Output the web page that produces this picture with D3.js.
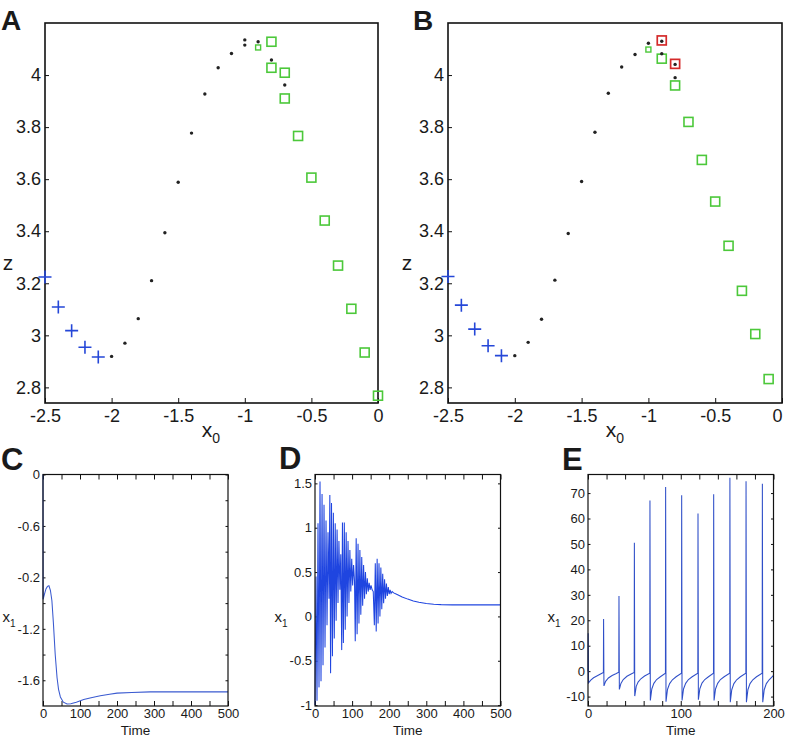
<!DOCTYPE html>
<html><head><meta charset="utf-8">
<script src="https://cdn.jsdelivr.net/npm/d3@7"></script>
<style>
body{margin:0;background:#fff;}
svg{display:block;}
text{font-family:"Liberation Sans",Arial,Helvetica,sans-serif;fill:#1a1a1a;}
</style>
</head><body>
<svg id="chart" width="786" height="739"></svg>
<script>
// ---------------- DATA ----------------
// Panels A & B (x0 vs z)
const scatterXTicks = [-2.5, -2, -1.5, -1, -0.5, 0];
const scatterXTickLabels = ["-2.5", "-2", "-1.5", "-1", "-0.5", "0"];
const scatterYTicks = [2.8, 3, 3.2, 3.4, 3.6, 3.8, 4];
const scatterYTickLabels = ["2.8", "3", "3.2", "3.4", "3.6", "3.8", "4"];

const aBlackDots = [[-2.0,2.919],[-1.9,2.970],[-1.8,3.064],[-1.7,3.210],[-1.6,3.394],[-1.5,3.588],[-1.4,3.777],[-1.3,3.927],[-1.2,4.028],[-1.1,4.083],[-1.0,4.135],[-1.0,4.115],[-0.9,4.128],[-0.8,4.058],[-0.7,3.962]];
const aGreenSquares = [[-0.8,4.128],[-0.8,4.028],[-0.7,4.009],[-0.7,3.910],[-0.6,3.766],[-0.5,3.606],[-0.4,3.441],[-0.3,3.268],[-0.2,3.102],[-0.1,2.934],[0.0,2.768]];
const aGreenSmall = [[-0.9,4.106]];
const aBluePlus = [[-2.5,3.224],[-2.4,3.109],[-2.3,3.018],[-2.2,2.954],[-2.1,2.917]];

const bBlackDots = [[-2.0,2.922],[-1.9,2.973],[-1.8,3.062],[-1.7,3.212],[-1.6,3.391],[-1.5,3.591],[-1.4,3.780],[-1.3,3.930],[-1.2,4.031],[-1.1,4.079],[-1.0,4.122],[-0.9,4.082],[-0.9,4.130],[-0.8,4.041],[-0.8,3.990]];
const bGreenSquares = [[-0.9,4.063],[-0.8,3.960],[-0.7,3.820],[-0.6,3.674],[-0.5,3.514],[-0.4,3.344],[-0.3,3.171],[-0.2,3.005],[-0.1,2.832]];
const bGreenSmall = [[-1.0,4.098]];
const bRedSquares = [[-0.9,4.133],[-0.8,4.043]];
const bBluePlus = [[-2.5,3.226],[-2.4,3.116],[-2.3,3.024],[-2.2,2.960],[-2.1,2.922]];

// Panel C (time, x1)
const cXTicks = [0,50,100,150,200,250,300,350,400,450,500];
const cXTickLabels = ["0","","100","","200","","300","","400","","500"];
const cYTicks = [0,-0.2,-0.4,-0.6,-0.8,-1.0,-1.2,-1.4,-1.6];
const cYTickLabels = ["0","","-0.6","","-0.2","","-1.2","","-1.6"];
const cSeries = [[0,0],[0.3,-0.97],[4,-0.93],[8,-0.89],[12,-0.87],[16,-0.865],[20,-0.9],[24,-0.98],[28,-1.15],[33,-1.4],[38,-1.58],[42,-1.67],[47,-1.73],[55,-1.77],[65,-1.785],[75,-1.783],[90,-1.77],[110,-1.75],[130,-1.735],[155,-1.72],[180,-1.708],[200,-1.70],[240,-1.695],[290,-1.69],[400,-1.69],[500,-1.69]];

// Panel D
const dXTicks = [0,50,100,150,200,250,300,350,400,450,500];
const dXTickLabels = ["0","","100","","200","","300","","400","","500"];
const dYTicks = [-1,-0.5,0,0.5,1,1.5];
const dYTickLabels = ["-1","-0.5","0","0.5","1","1.5"];
const dSeries = [[0,-1.0],[2.7,0.45],[5.4,-0.95],[8.1,1.05],[10.8,-0.8],[13.5,1.52],[16.2,-0.73],[19,1.38],[21.6,-0.55],[24.3,1.26],[27,-0.35],[29.7,1.08],[32.4,-0.1],[35.1,0.95],[37.8,0.2],
[40,1.37],[42,-0.64],[44.5,1.28],[47,-0.45],[49.5,1.17],[52,-0.25],[54.5,1.05],[57,-0.05],[59.5,0.98],[62,0.15],[64.5,0.85],[67,0.3],[69.5,0.7],
[72,-0.38],[74,1.06],[76.5,-0.3],[79,1.06],[81.5,-0.15],[84,0.95],[86.5,0.0],[89,0.85],[91.5,0.15],[94,0.75],[96.5,0.28],[99,0.65],[101.5,0.35],[104,0.58],[106.5,0.4],
[108.5,-0.28],[111,0.88],[113.5,-0.2],[116,0.82],[118.5,-0.08],[121,0.75],[123.5,0.02],[126,0.67],[128.5,0.12],[131,0.58],[133.5,0.2],[136,0.5],[138.5,0.25],[141,0.43],[143.5,0.28],[146,0.38],[148.5,0.3],[151,0.35],[154,0.3],[157,0.28],
[160,-0.1],[162.5,0.6],[165,-0.17],[167.5,0.65],[170,-0.08],[172.5,0.6],[175,0.0],[177.5,0.55],[180,0.08],[182.5,0.48],[185,0.15],[187.5,0.42],[190,0.2],[192.5,0.37],[195,0.23],[197.5,0.33],[200,0.25],[202.5,0.3],[205,0.26],[208,0.28],[212,0.265],
[220,0.25],[235,0.22],[250,0.195],[265,0.175],[280,0.16],[300,0.145],[320,0.137],[340,0.133],[370,0.13],[420,0.13],[500,0.13]];

// Panel E
const eXTicks = [0,20,40,60,80,100,120,140,160,180,200];
const eXTickLabels = ["0","","","","","100","","","","","200"];
const eYTicks = [-10,0,10,20,30,40,50,60,70];
const eYTickLabels = ["-10","0","10","20","30","40","50","60","70"];
const eSeries = [[0,0],[0.2,14.9],[0.6,-4.6],[3,-3.5],[6,-2.6],[10,-1.8],[14,-1.0],[16.6,-0.5],
[16.8,20.5],[17.2,-5.8],[19,-4.0],[22,-2.7],[26,-1.7],[30,-1.0],[33.2,-0.4],
[33.4,29.5],[33.8,-7.2],[35.5,-4.8],[38,-3.3],[42,-2.0],[46,-1.2],[49.8,-0.5],
[50,50.5],[50.4,-9.8],[52,-6.0],[54,-4.3],[57,-3.0],[61,-1.9],[66.6,-0.8],
[66.8,67.1],[67.2,-11.5],[68.8,-7.0],[71,-4.8],[74,-3.3],[78,-2.2],[83.5,-0.8],
[83.7,72.4],[84.1,-12.0],[85.7,-7.2],[88,-4.9],[91,-3.4],[95,-2.2],[100.8,-0.8],
[101,69.1],[101.4,-11.5],[103,-7.0],[105.3,-4.8],[108.3,-3.3],[112.3,-2.2],[118.4,-0.8],
[118.6,62.0],[119,-11.2],[120.6,-6.9],[122.9,-4.7],[125.9,-3.3],[129.9,-2.2],[135.3,-0.8],
[135.5,69.5],[135.9,-11.5],[137.5,-7.0],[139.8,-4.8],[142.8,-3.3],[146.8,-2.2],[152.8,-0.8],
[153,76.0],[153.4,-12.2],[155,-7.3],[157.3,-4.9],[160.3,-3.4],[164.3,-2.2],[170.2,-0.8],
[170.4,74.6],[170.8,-12.2],[172.4,-7.3],[174.7,-4.9],[177.7,-3.4],[181.7,-2.2],[187.8,-0.8],
[188,73.7],[188.4,-12.2],[190,-7.3],[192.3,-4.9],[195.3,-3.4],[200,-1.7]];

// ---------------- DRAW ----------------
const svg = d3.select("#chart");
const FONT = '"Liberation Sans",Arial,Helvetica,sans-serif';

function frame(g, x, y, o) {
  const [x0, x1] = x.range(), [y0, y1] = y.range();
  const ax = g.append("g").attr("transform", `translate(0,${y0})`)
    .call(d3.axisBottom(x).tickValues(o.xTicks).tickSize(-o.xTickLen).tickPadding(o.xPad)
      .tickFormat((d, i) => o.xLabels[i]));
  ax.select(".domain").remove();
  ax.selectAll("text").attr("font-size", o.fs).attr("font-family", FONT).attr("fill", "#1a1a1a");
  ax.selectAll("line").attr("stroke", "#111");
  if (o.lastShift) ax.selectAll("text").filter((d, i, n) => i === n.length - 1).attr("dx", o.lastShift);
  const ay = g.append("g").attr("transform", `translate(${x0},0)`)
    .call(d3.axisLeft(y).tickValues(o.yTicks).tickSize(-o.yTickLen).tickPadding(o.yPad)
      .tickFormat((d, i) => o.yLabels[i]));
  ay.select(".domain").remove();
  ay.selectAll("text").attr("font-size", o.fs).attr("font-family", FONT).attr("fill", "#1a1a1a");
  ay.selectAll("line").attr("stroke", "#111");
  if (o.mirror) {
    const at = g.append("g").attr("transform", `translate(0,${y1})`)
      .call(d3.axisTop(x).tickValues(o.xTicks).tickSize(-o.xTickLen).tickFormat(""));
    at.select(".domain").remove();
    at.selectAll("line").attr("stroke", "#111");
    const ar = g.append("g").attr("transform", `translate(${x1},0)`)
      .call(d3.axisRight(y).tickValues(o.yTicks).tickSize(-o.yTickLen).tickFormat(""));
    ar.select(".domain").remove();
    ar.selectAll("line").attr("stroke", "#111");
  }
}
function box(g, x, y, sw) {
  const [x0, x1] = x.range(), [y0, y1] = y.range();
  g.append("rect").attr("x", x0).attr("y", y1).attr("width", x1 - x0).attr("height", y0 - y1)
    .attr("fill", "none").attr("stroke", "#111").attr("stroke-width", sw);
}
function subLabel(g, xp, yp, main, sub, fs, sfs) {
  const t = g.append("text").attr("x", xp).attr("y", yp).attr("font-size", fs).attr("text-anchor", "middle");
  t.append("tspan").text(main);
  t.append("tspan").attr("font-size", sfs).attr("dy", fs * 0.3).text(sub);
}
function letter(txt, xp, yp, fs) {
  svg.append("text").attr("x", xp).attr("y", yp).attr("font-size", fs).attr("font-weight", "bold").text(txt);
}

function scatterPanel(left, right, dots, greens, smalls, reds, pluses, lastShift) {
  const g = svg.append("g");
  const x = d3.scaleLinear().domain([-2.5, 0]).range([left, right]);
  const y = d3.scaleLinear().domain([2.74, 4.2]).range([403, 23]);
  frame(g, x, y, {xTicks: scatterXTicks, xLabels: scatterXTickLabels, yTicks: scatterYTicks, yLabels: scatterYTickLabels,
    xTickLen: 5, yTickLen: 4, xPad: 6, yPad: 4, fs: 18, mirror: false, lastShift: lastShift});
  box(g, x, y, 1.6);
  g.append("g").selectAll("path").data(pluses).join("path")
    .attr("d", d => `M${x(d[0]) - 6.5},${y(d[1])}H${x(d[0]) + 6.5}M${x(d[0])},${y(d[1]) - 6.5}V${y(d[1]) + 6.5}`)
    .attr("stroke", "#2547d8").attr("stroke-width", 1.6).attr("fill", "none");
  g.append("g").selectAll("rect").data(greens).join("rect")
    .attr("x", d => x(d[0]) - 4.5).attr("y", d => y(d[1]) - 4.5).attr("width", 9).attr("height", 9)
    .attr("fill", "none").attr("stroke", "#4cc83a").attr("stroke-width", 1.6);
  g.append("g").selectAll("rect").data(smalls).join("rect")
    .attr("x", d => x(d[0]) - 2.5).attr("y", d => y(d[1]) - 2.5).attr("width", 5).attr("height", 5)
    .attr("fill", "none").attr("stroke", "#4cc83a").attr("stroke-width", 1.4);
  g.append("g").selectAll("rect").data(reds).join("rect")
    .attr("x", d => x(d[0]) - 4.5).attr("y", d => y(d[1]) - 4.5).attr("width", 9).attr("height", 9)
    .attr("fill", "none").attr("stroke", "#d42a2a").attr("stroke-width", 1.7);
  g.append("g").selectAll("circle").data(dots).join("circle")
    .attr("cx", d => x(d[0])).attr("cy", d => y(d[1])).attr("r", 1.7).attr("fill", "#222");
  return {g, x, y};
}
function axisNames(g, zx, zy, xx, xy) {
  g.append("text").attr("x", zx).attr("y", zy).attr("font-size", 21).attr("text-anchor", "middle").attr("dominant-baseline", "central").text("z");
  subLabel(g, xx, xy, "x", "0", 21, 14);
}

const A = scatterPanel(45, 378, aBlackDots, aGreenSquares, aGreenSmall, [], aBluePlus, 0);
axisNames(A.g, 8, 262, 211, 437);
const B = scatterPanel(448, 782, bBlackDots, bGreenSquares, bGreenSmall, bRedSquares, bBluePlus, -5);
axisNames(B.g, 407, 262, 615, 437);

function timePanel(left, right, yDom, series, xT, xL, yT, yL, color, lx) {
  const g = svg.append("g");
  const x = d3.scaleLinear().domain([xT[0], xT[xT.length - 1]]).range([left, right]);
  const y = d3.scaleLinear().domain(yDom).range([706, 474.5]);
  frame(g, x, y, {xTicks: xT, xLabels: xL, yTicks: yT, yLabels: yL, xTickLen: 5, yTickLen: 2.5, xPad: 3, yPad: 3, fs: 13, mirror: true});
  g.append("path").datum(series)
    .attr("d", d3.line().x(d => x(d[0])).y(d => y(d[1])))
    .attr("fill", "none").attr("stroke", color).attr("stroke-width", 1.05);
  box(g, x, y, 1.2);
  g.append("text").attr("x", (left + right) / 2).attr("y", 735).attr("font-size", 13.5).attr("text-anchor", "middle").text("Time");
  subLabel(g, lx, 622, "x", "1", 15, 10);
  return {g, x, y};
}

timePanel(43, 228, [-1.8, 0], cSeries, cXTicks, cXTickLabels, cYTicks, cYTickLabels, "#3a5ad0", 9);
timePanel(315, 500.5, [-1.01, 1.6], dSeries, dXTicks, dXTickLabels, dYTicks, dYTickLabels, "#1f45e0", 281);
timePanel(588, 773.5, [-13.7, 77.3], eSeries, eXTicks, eXTickLabels, eYTicks, eYTickLabels, "#2f4fc8", 554);

letter("A", 1, 30, 28);
letter("B", 413, 30, 28);
letter("C", 1, 470, 31);
letter("D", 279, 469, 31);
letter("E", 562, 470, 31);
</script>
</body></html>
